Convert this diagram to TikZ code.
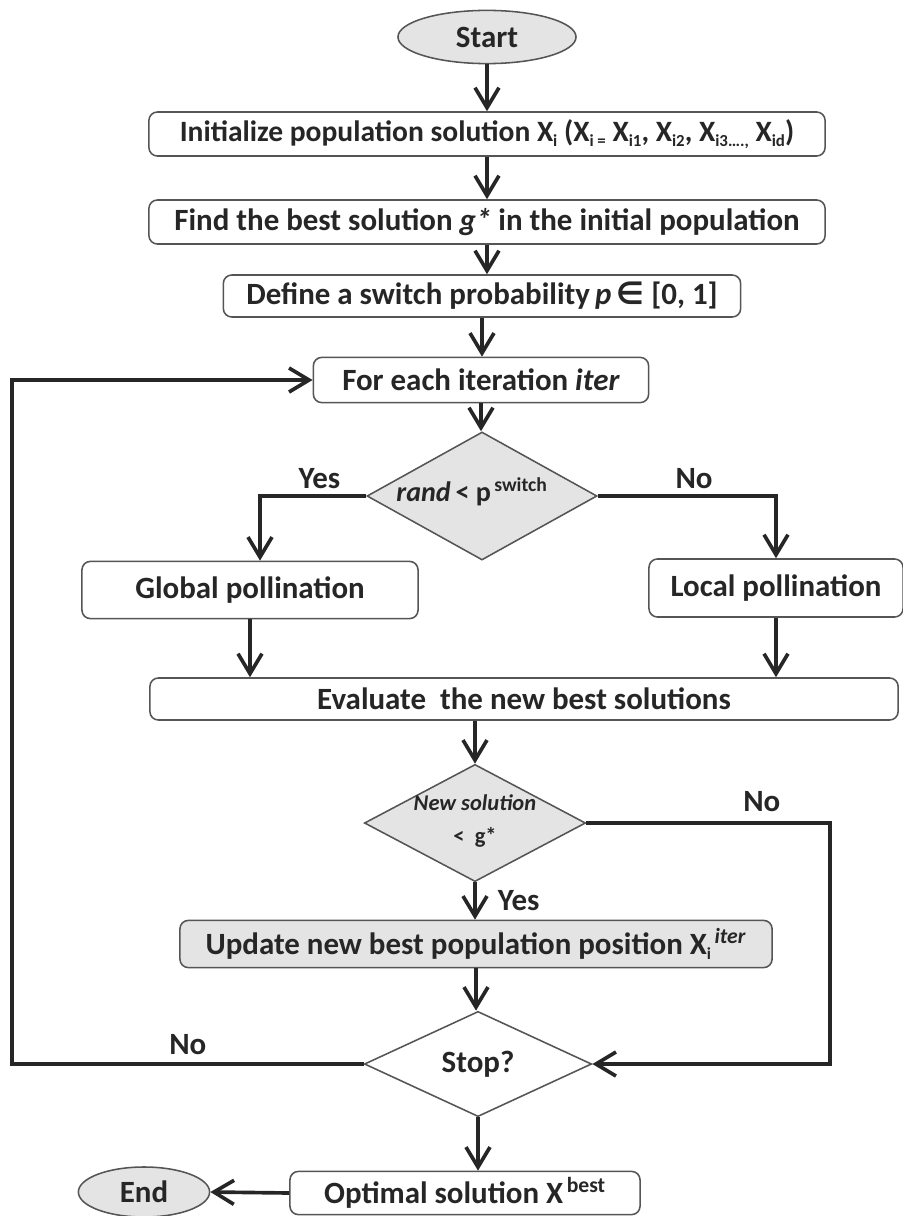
\documentclass[tikz,border=0pt]{standalone}
\usepackage{fontspec}
\setmainfont{Carlito}
\newfontfamily\symfont{DejaVu Sans}
\usetikzlibrary{shapes.geometric,arrows.meta,positioning}

\definecolor{boxgray}{HTML}{E4E4E4}
\definecolor{edgegray}{HTML}{555555}
\definecolor{linedark}{HTML}{262626}

\newcommand{\smallsub}[1]{\raisebox{-0.35ex}{\fontsize{12}{13}\selectfont #1}}

\begin{document}
\begin{tikzpicture}[
  x=0.025cm, y=-0.025cm,
  font=\fontsize{22}{26}\selectfont\bfseries,
  text=linedark,
  box/.style={rectangle, rounded corners=6pt, draw=edgegray, line width=1.1pt, fill=white, align=center, inner sep=2pt},
  graybox/.style={box, fill=boxgray},
  decision/.style={diamond, draw=edgegray, line width=1.1pt, inner sep=0pt, align=center},
  terminal/.style={ellipse, draw=edgegray, line width=1.1pt, fill=boxgray, inner sep=0pt},
  arrow/.style={line width=2.6pt, draw=linedark, -{Straight Barb[length=5mm,width=6mm]}},
  answer/.style={inner sep=1pt}
]
\useasboundingbox (0,0) rectangle (902,1216);

% Set-up steps
\node[terminal, minimum width=4.45cm, minimum height=1.33cm] (start) at (487,37) {Start};
\node[box, minimum width=16.9cm, minimum height=1.1cm, font=\fontsize{21}{25}\selectfont\bfseries] (init) at (487,134)
  {Initialize population solution X\smallsub{i} (X\smallsub{i =} X\smallsub{i1}, X\smallsub{i2}, X\smallsub{i3….,} X\smallsub{id})};
\node[box, minimum width=16.9cm, minimum height=1.1cm] (find) at (487,222)
  {Find the best solution \textit{g*} in the initial population};
\node[box, minimum width=12.93cm, minimum height=1.05cm] (define) at (482,296)
  {Define a switch probability\,\textit{p}\,{\symfont ∈} [0, 1]};
\draw[arrow] (start.south) -- (start.south |- init.north);
\draw[arrow] (init.south) -- (init.south |- find.north);
\draw[arrow] (find.south) -- (find.south |- define.north);

% Iteration and switch
\node[box, minimum width=8.38cm, minimum height=1.13cm] (iter) at (481,380) {For each iteration \textit{iter}};
\node[decision, fill=boxgray, minimum width=5.75cm, minimum height=3.2cm,
  label={[xshift=-0.25cm, yshift=0.1cm, font=\fontsize{20}{24}\selectfont\bfseries]center:{\textit{rand}\,< p\textsuperscript{\,switch}}}] (switch) at (482,496) {};
\node[box, minimum width=8.4cm, minimum height=1.43cm] (global) at (250,590) {Global pollination};
\node[box, minimum width=6.35cm, minimum height=1.45cm] (local) at (776,588) {Local pollination};
\node[box, minimum width=18.7cm, minimum height=1.05cm] (evaluate) at (524,699) {Evaluate\ \ the new best solutions};
\draw[arrow] (define.south) -- (define.south |- iter.north);
\draw[arrow] (iter.south) -- (iter.south |- switch.north);
\draw[arrow] (switch.west) -| node[answer, pos=0.22, above=3pt] {Yes} ([xshift=0.25cm]global.north);
\draw[arrow] (switch.east) -| node[answer, pos=0.27, above=3pt] {No} (local.north);
\draw[arrow] (global.south) -- (global.south |- evaluate.north);
\draw[arrow] (local.south) -- (local.south |- evaluate.north);

% Comparison and update
\node[decision, fill=boxgray, minimum width=5.53cm, minimum height=2.93cm,
  label={[align=center, yshift=0.05cm, font=\fontsize{16}{19}\selectfont\bfseries]center:{\textit{New solution}\\[4pt]<\ \ g*}}] (better) at (475,823) {};
\node[graybox, minimum width=14.8cm, minimum height=1.18cm] (update) at (476,944)
  {Update new best population position X\smallsub{i}\textsuperscript{\,\textit{iter}}};
\node[decision, fill=white, minimum width=5.68cm, minimum height=2.63cm] (stop) at (478,1064) {Stop?};
\coordinate (nocorner) at (830,823);
\coordinate (loopx) at (12,0);
\draw[arrow] (better.north |- evaluate.south) -- (better.north);
\draw[arrow] (better.south) -- node[answer, right=14pt] {Yes} (better.south |- update.north);
\draw[arrow] (update.south) -- (update.south |- stop.north);
\draw[arrow] (better.east) -- node[answer, pos=0.72, above=6pt] {No} (nocorner) |- (stop.east);
\draw[arrow] (stop.west) -- node[answer, pos=0.5, above=4pt] {No} (stop.west -| loopx) |- (iter.west);

% Result
\node[box, minimum width=8.75cm, minimum height=1.08cm] (optimal) at (465,1193) {Optimal solution X\textsuperscript{\,best}};
\node[terminal, minimum width=3.28cm, minimum height=1.25cm] (end) at (144,1192) {End};
\draw[arrow] (stop.south) -- (stop.south |- optimal.north);
\draw[arrow] (optimal.west) -- (end.east);

\end{tikzpicture}
\end{document}
